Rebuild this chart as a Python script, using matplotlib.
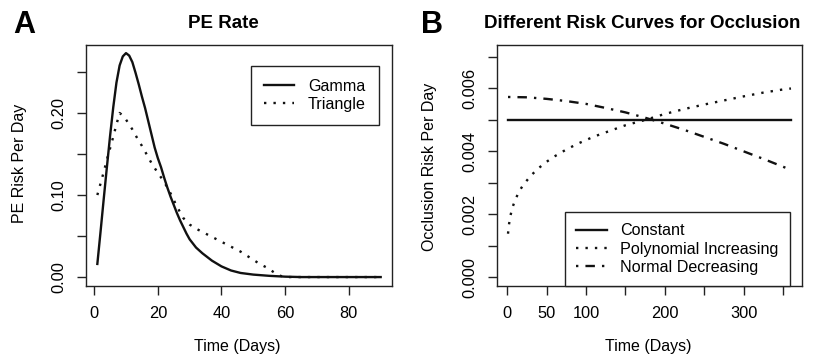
import matplotlib
matplotlib.use("Agg")
import matplotlib.pyplot as plt

plt.rcParams['font.family'] = ['Liberation Sans', 'DejaVu Sans']

# ---- panel A: PE rate ----
gamma_days = [1, 2, 3, 4, 5, 6, 7, 8, 9, 10, 11, 12, 13, 14, 15, 16, 17, 18, 19, 20,
              21, 22, 23, 24, 25, 26, 27, 28, 29, 30, 32, 34, 37, 40, 43, 46, 50, 55,
              60, 65, 90]
gamma_rate = [0.016, 0.055, 0.095, 0.134, 0.172, 0.207, 0.237, 0.258, 0.269, 0.273,
              0.270, 0.262, 0.249, 0.235, 0.220, 0.206, 0.190, 0.174, 0.158, 0.145,
              0.134, 0.121, 0.109, 0.098, 0.088, 0.078, 0.069, 0.061, 0.053, 0.046,
              0.036, 0.029, 0.020, 0.013, 0.008, 0.005, 0.003, 0.0015,
              0.0005, 0.0, 0.0]

tri_days = [1, 2, 3, 4, 5, 6, 7, 8, 9, 10, 11, 12, 13, 14, 15, 16, 17, 18, 19, 20,
            22, 24, 26, 28, 30, 32, 34, 36, 38, 40, 42, 44, 46, 48, 50, 52, 54, 56,
            58, 60, 90]
tri_rate = [0.100, 0.114, 0.128, 0.143, 0.157, 0.171, 0.186, 0.200, 0.197, 0.192,
            0.186, 0.180, 0.173, 0.166, 0.160, 0.153, 0.146, 0.139, 0.133, 0.127,
            0.116, 0.102, 0.086, 0.072, 0.064, 0.059, 0.055, 0.051, 0.047, 0.043,
            0.039, 0.035, 0.031, 0.026, 0.021, 0.016, 0.012, 0.007,
            0.002, 0.0, 0.0]

a_xticks = [0, 20, 40, 60, 80]
a_yticks = [0.0, 0.05, 0.10, 0.15, 0.20, 0.25]
a_ylabels = ['0.00', '', '0.10', '', '0.20', '']

# ---- panel B: occlusion risk curves ----
const_days = [1, 360]
const_risk = [0.005, 0.005]

poly_days = [1, 2, 4, 7, 10, 15, 20, 30, 40, 50, 60, 75, 90, 110, 130, 150, 175,
             200, 225, 250, 275, 300, 325, 350, 360]
poly_risk = [0.00138, 0.00164, 0.00195, 0.00224, 0.00245, 0.00272, 0.00292, 0.00323,
             0.00347, 0.00367, 0.00384, 0.00406, 0.00425, 0.00447, 0.00465, 0.00483,
             0.00500, 0.00519, 0.00535, 0.00549, 0.00562, 0.00575, 0.00587, 0.00597,
             0.00600]

norm_days = [1, 25, 50, 75, 100, 125, 150, 175, 200, 225, 250, 275, 300, 325, 350, 360]
norm_risk = [0.00573, 0.00572, 0.00567, 0.00560, 0.00551, 0.00538, 0.00524, 0.00507,
             0.00488, 0.00468, 0.00446, 0.00424, 0.00400, 0.00376, 0.00351, 0.00341]

b_xticks = [0, 50, 100, 150, 200, 250, 300, 350]
b_xlabels = ['0', '50', '100', '', '200', '', '300', '']
b_yticks = [0.0, 0.001, 0.002, 0.003, 0.004, 0.005, 0.006, 0.007]
b_ylabels = ['0.000', '', '0.002', '', '0.004', '', '0.006', '']

dotted = (0, (1, 3))
dotdash = (0, (1, 3, 4, 3))
ink = '#111111'

fig = plt.figure(figsize=(8.16, 3.58), dpi=100)
axA = fig.add_axes([0.1054, 0.2011, 0.375, 0.6732])
axB = fig.add_axes([0.6087, 0.2011, 0.3745, 0.6732])

axA.plot(gamma_days, gamma_rate, color=ink, lw=1.7, label='Gamma')
axA.plot(tri_days, tri_rate, color=ink, lw=1.7, linestyle=dotted, label='Triangle')
axA.set_xlim(1 - 0.04 * 89, 90 + 0.04 * 89)
axA.set_ylim(-0.0109, 0.2829)
axA.set_xticks(a_xticks)
axA.set_yticks(a_yticks)
axA.set_yticklabels(a_ylabels)

axB.plot(const_days, const_risk, color=ink, lw=1.7, label='Constant')
axB.plot(poly_days, poly_risk, color=ink, lw=1.7, linestyle=dotted, label='Polynomial Increasing')
axB.plot(norm_days, norm_risk, color=ink, lw=1.7, linestyle=dotdash, label='Normal Decreasing')
axB.set_xlim(1 - 0.04 * 359, 360 + 0.04 * 359)
axB.set_ylim(-0.000284, 0.007384)
axB.set_xticks(b_xticks)
axB.set_xticklabels(b_xlabels)
axB.set_yticks(b_yticks)
axB.set_yticklabels(b_ylabels)

for ax in (axA, axB):
    for s in ax.spines.values():
        s.set_color('#222222')
        s.set_linewidth(1.0)
    ax.tick_params(length=6.2, width=1.0, color='#222222', labelsize=11.8, pad=8)
    for lab in ax.get_yticklabels():
        lab.set_rotation(90)
        lab.set_va('center')

legA = axA.legend(loc='upper left', bbox_to_anchor=(0.538, 0.913), fontsize=11.6,
                  fancybox=False, edgecolor='#222222', framealpha=1, borderpad=0.8,
                  handlelength=1.9, handletextpad=0.85, labelspacing=0.18,
                  borderaxespad=0)
legA.get_frame().set_linewidth(1.0)
legB = axB.legend(loc='lower left', bbox_to_anchor=(0.2225, 0.0), fontsize=11.6,
                  fancybox=False, edgecolor='#222222', framealpha=1, borderpad=0.7,
                  handlelength=1.9, handletextpad=0.85, labelspacing=0.2,
                  borderaxespad=0)
legB.get_frame().set_linewidth(1.0)

# titles, panel letters, axis labels
fig.text(223 / 816, 1 - 28.3 / 358, 'PE Rate', ha='center', va='baseline',
         fontsize=13.5, fontweight='bold')
fig.text(642.5 / 816, 1 - 28.3 / 358, 'Different Risk Curves for Occlusion', ha='center',
         va='baseline', fontsize=13.5, fontweight='bold')
fig.text(13 / 816, 1 - 33.3 / 358, 'A', ha='left', va='baseline', fontsize=22, fontweight='bold')
fig.text(421 / 816, 1 - 33.3 / 358, 'B', ha='left', va='baseline', fontsize=22, fontweight='bold')

fig.text(20 / 816, 1 - 163.5 / 358, 'PE Risk Per Day', rotation=90, ha='center', va='center', fontsize=11.5)
fig.text(429.5 / 816, 1 - 167 / 358, 'Occlusion Risk Per Day', rotation=90, ha='center', va='center', fontsize=11.5)
fig.text(237.7 / 816, 1 - 346.5 / 358, 'Time (Days)', ha='center', va='center', fontsize=11.5)
fig.text(648 / 816, 1 - 346.5 / 358, 'Time (Days)', ha='center', va='center', fontsize=11.5)

fig.savefig('out.png', dpi=100)
